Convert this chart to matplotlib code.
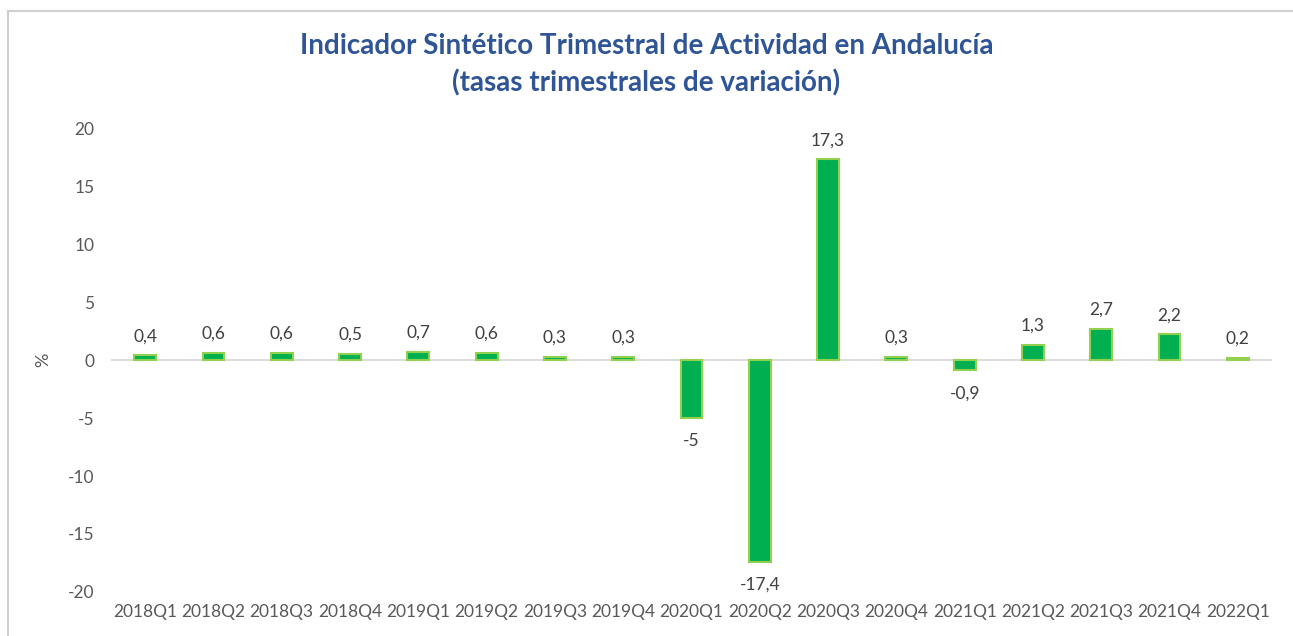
import matplotlib
matplotlib.use('Agg')
import matplotlib.pyplot as plt
import numpy as np

plt.rcParams['font.family'] = ['Lato', 'DejaVu Sans']
plt.rcParams['axes.unicode_minus'] = False

quarters = ['2018Q1', '2018Q2', '2018Q3', '2018Q4', '2019Q1', '2019Q2', '2019Q3', '2019Q4',
            '2020Q1', '2020Q2', '2020Q3', '2020Q4', '2021Q1', '2021Q2', '2021Q3', '2021Q4', '2022Q1']
values = [0.4, 0.6, 0.6, 0.5, 0.7, 0.6, 0.3, 0.3,
          -5, -17.4, 17.3, 0.3, -0.9, 1.3, 2.7, 2.2, 0.2]
yticks = [-20, -15, -10, -5, 0, 5, 10, 15, 20]

title = 'Indicador Sintético Trimestral de Actividad en Andalucía\n(tasas trimestrales de variación)'

text_grey = '#595959'
label_grey = '#404040'

fig = plt.figure(figsize=(12.93, 6.36), dpi=100)
ax = fig.add_axes([111 / 1293, 1 - 592 / 636, (1272 - 111) / 1293, (592 - 128) / 636])

x = np.arange(len(quarters))
ax.bar(x, values, width=0.32, color='#00B050', edgecolor='#92D050', linewidth=1.5, zorder=3)
ax.axhline(0, color='#D9D9D9', linewidth=1.3, zorder=2)

for xi, v in zip(x, values):
    txt = ('%g' % v).replace('.', ',')
    if v >= 0:
        ax.annotate(txt, (xi, v), xytext=(0, 8), textcoords='offset points',
                    ha='center', va='bottom', fontsize=12.5, color=label_grey)
    else:
        ax.annotate(txt, (xi, v), xytext=(0, -11), textcoords='offset points',
                    ha='center', va='top', fontsize=12.5, color=label_grey)

ax.set_xlim(-0.5, len(quarters) - 0.5)
ax.set_ylim(-20, 20)
ax.set_xticks(x)
ax.set_xticklabels(quarters)
ax.set_yticks(yticks)
ax.tick_params(axis='x', length=0, pad=9, labelsize=12.5, labelcolor=text_grey)
ax.tick_params(axis='y', length=0, pad=12, labelsize=12.5, labelcolor=text_grey)
for s in ax.spines.values():
    s.set_visible(False)

ax.set_ylabel('%', fontsize=13, color=text_grey, labelpad=12)

fig.text(0.5, 1 - 65 / 636, title, ha='center', va='center', fontsize=20,
         fontweight='bold', color='#2F5597', linespacing=1.45)

# chart area border (top and left visible in the original)
fig.add_artist(plt.Line2D([8 / 1293, 8 / 1293], [0, 1 - 11 / 636], color='#D0D0D0', linewidth=1.5))
fig.add_artist(plt.Line2D([8 / 1293, 1], [1 - 11 / 636, 1 - 11 / 636], color='#D0D0D0', linewidth=1.5))

fig.savefig('out.png', dpi=100)
